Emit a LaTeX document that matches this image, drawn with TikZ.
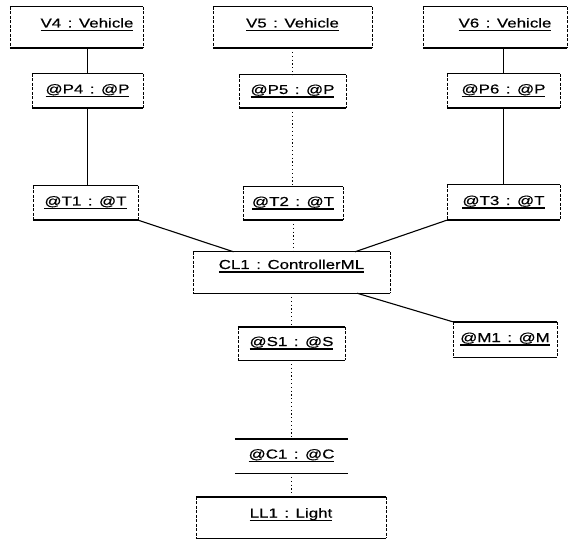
\documentclass[tikz,border=0pt]{standalone}
\usepackage{fontspec}
\setmainfont{Liberation Sans}[FakeStretch=1.3, FakeBold=0.5]
\newcommand\ulx[1]{\sbox0{#1}\rlap{\rule[-3.6pt]{\wd0}{1.2pt}}\usebox0}
\newcommand\sepc{\hspace{0.5em}:\hspace{0.5em}}
\begin{document}
\begin{tikzpicture}[x=1pt,y=-1pt,
  obj/.style={inner sep=0pt, font=\fontsize{13}{15}\selectfont, text height=9pt, text depth=4pt},
  hi/.style={text depth=9pt},
  edge/.style={line width=1.4pt},
  side/.style={line width=0.6pt, dash pattern=on 3pt off 1.5pt},
  solidlink/.style={line width=0.9pt},
  dotlink/.style={line width=0.9pt, dash pattern=on 1.2pt off 2.6pt},
  diag/.style={line width=1.1pt}
]
\useasboundingbox (0,0) rectangle (573,540);

% top row
\node[obj, hi, minimum width=133pt, minimum height=41pt] (v4) at (76.5,27.5) {\hspace*{21pt}\ulx{V4\sepc Vehicle}};
\node[obj, hi, minimum width=159pt, minimum height=41pt] (v5) at (292.5,27.5) {\ulx{V5\sepc Vehicle}};
\node[obj, hi, minimum width=144pt, minimum height=41pt] (v6) at (495,27.5) {\hspace*{20pt}\ulx{V6\sepc Vehicle}};

% ports
\node[obj, minimum width=111pt, minimum height=34pt] (p4) at (87.5,91) {\ulx{@P4\sepc @P}};
\node[obj, minimum width=107pt, minimum height=33pt] (p5) at (292.5,91.5) {\ulx{@P5\sepc @P}};
\node[obj, minimum width=113pt, minimum height=34pt] (p6) at (503.5,91) {\ulx{@P6\sepc @P}};

\node[obj, minimum width=105pt, minimum height=34pt] (t1) at (85.5,203) {\ulx{@T1\sepc @T}};
\node[obj, minimum width=100pt, minimum height=33pt] (t2) at (293,203.5) {\ulx{@T2\sepc @T}};
\node[obj, minimum width=113pt, minimum height=35pt] (t3) at (503.5,202.5) {\ulx{@T3\sepc @T}};

% controller
\node[obj, text depth=16pt, minimum width=197pt, minimum height=41pt] (cl1) at (291.5,272.5) {\ulx{CL1\sepc ControllerML}};

\node[obj, minimum width=107pt, minimum height=33pt] (s1) at (291.5,343.5) {\ulx{@S1\sepc @S}};
\node[obj, minimum width=104pt, minimum height=35pt] (m1) at (505,339.5) {\ulx{@M1\sepc @M}};
\node[obj, minimum width=113pt, minimum height=34pt] (c1) at (291.5,456) {\ulx{@C1\sepc @C}};
\node[obj, hi, minimum width=190pt, minimum height=41pt] (ll1) at (291,517.5) {\ulx{LL1\sepc Light}};

% box outlines
\foreach \n in {v4,v5,v6,p4,p5,p6,t1,t2,t3,cl1,s1,m1,ll1}
  {\draw[side] (\n.north west) -- (\n.south west) (\n.north east) -- (\n.south east);}
\foreach \n in {v4,v5,v6,p4,p5,p6,t1,t2,t3,cl1,s1,m1,c1,ll1}
  {\draw[edge] (\n.north west) -- (\n.north east) (\n.south west) -- (\n.south east);}

% left column
\draw[solidlink] (p4.north |- v4.south) -- (p4.north);
\draw[solidlink] (p4.south) -- (p4.south |- t1.north);
% right column
\draw[solidlink] (p6.north |- v6.south) -- (p6.north);
\draw[solidlink] (p6.south) -- (p6.south |- t3.north);
% middle column
\draw[dotlink] (v5.south) -- (v5.south |- p5.north);
\draw[dotlink] (p5.south) -- (p5.south |- t2.north);
\draw[dotlink] (t2.south) -- (t2.south |- cl1.north);
\draw[dotlink] (cl1.south) -- (cl1.south |- s1.north);
\draw[dotlink] (s1.south) -- (s1.south |- c1.north);
\draw[dotlink] (c1.south) -- (c1.south |- ll1.north);
% diagonals
\draw[diag] (t1.south east) -- ([xshift=-58pt]cl1.north);
\draw[diag] (t3.south west) -- ([xshift=63.5pt]cl1.north);
\draw[diag] ([xshift=65.5pt]cl1.south) -- (m1.north west);
\end{tikzpicture}
\end{document}
